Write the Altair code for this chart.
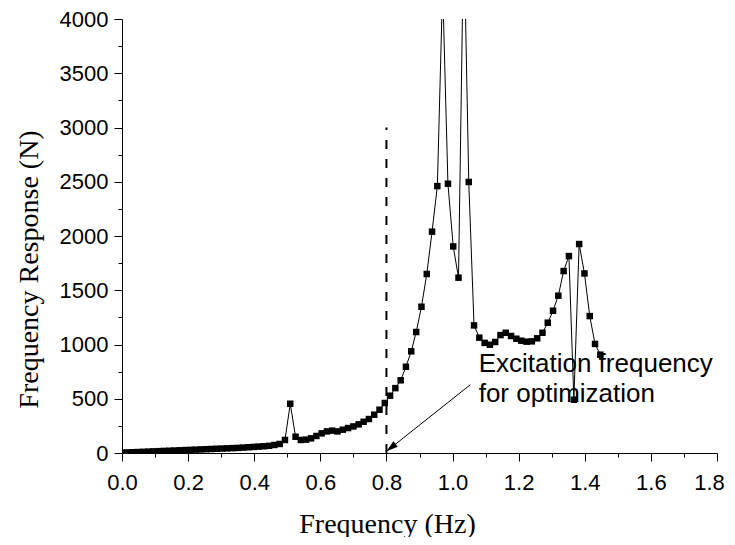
import altair as alt
import pandas as pd

# Frequency samples (Hz)
freq = [0.000, 0.016, 0.032, 0.048, 0.064, 0.080, 0.095, 0.111, 0.127, 0.143,
        0.159, 0.175, 0.191, 0.207, 0.223, 0.239, 0.254, 0.270, 0.286, 0.302,
        0.318, 0.334, 0.350, 0.366, 0.382, 0.398, 0.413, 0.429, 0.445, 0.461,
        0.477, 0.493, 0.509, 0.525, 0.541, 0.557, 0.572, 0.588, 0.604, 0.620,
        0.636, 0.652, 0.668, 0.684, 0.700, 0.716, 0.731, 0.747, 0.763, 0.779,
        0.795, 0.811, 0.827, 0.843, 0.859, 0.875, 0.890, 0.906, 0.922, 0.938,
        0.954, 0.970, 0.986, 1.002, 1.018, 1.034, 1.049, 1.065, 1.081, 1.097,
        1.113, 1.129, 1.145, 1.161, 1.177, 1.193, 1.208, 1.224, 1.240, 1.256,
        1.272, 1.288, 1.304, 1.320, 1.336, 1.352, 1.367, 1.383, 1.399, 1.415,
        1.431, 1.447]

# Frequency response (N)
response = [3, 5, 7, 9, 11, 13, 15, 17, 19, 21,
            23, 25, 27, 29, 31, 33, 35, 37, 39, 41,
            43, 45, 47, 50, 53, 56, 59, 62, 66, 74,
            83, 120, 454, 150, 120, 123, 135, 157, 181, 199,
            206, 199, 215, 230, 245, 264, 288, 313, 353, 399,
            461, 528, 598, 670, 795, 937, 1115, 1348, 1650, 2040,
            2460, 4300, 2482, 1904, 1616, 4850, 2498, 1176, 1063, 1015,
            998, 1023, 1087, 1108, 1078, 1053, 1035, 1026, 1029, 1057,
            1108, 1201, 1311, 1450, 1677, 1815, 491, 1926, 1655, 1262,
            1005, 906]

x_major = [0.0, 0.2, 0.4, 0.6, 0.8, 1.0, 1.2, 1.4, 1.6, 1.8]
x_minor = [0.1, 0.3, 0.5, 0.7, 0.9, 1.1, 1.3, 1.5, 1.7]
y_major = [0, 500, 1000, 1500, 2000, 2500, 3000, 3500, 4000]
y_minor = [250, 750, 1250, 1750, 2250, 2750, 3250, 3750]

# Annotation content
excite_x = [0.8]
excite_y0 = [0]
excite_y1 = [3000]
arrow_from = [1.054, 630]
arrow_to = [0.8, 15]
note_lines = ["Excitation frequency", "for optimization"]
note_x = [1.079, 1.079]
note_y = [743, 470]

df = pd.DataFrame({"f": freq, "r": response})
rule_df = pd.DataFrame({"f": excite_x, "r": excite_y0, "r2": excite_y1})
arrow_df = pd.DataFrame({"f": [arrow_from[0]], "r": [arrow_from[1]],
                         "f2": [arrow_to[0]], "r2": [arrow_to[1]]})
head_df = pd.DataFrame({"f": [arrow_to[0]], "r": [arrow_to[1]]})
note_df = pd.DataFrame({"f": note_x, "r": note_y, "t": note_lines})

x_scale = alt.Scale(domain=[0, 1.8], nice=False, zero=False)
y_scale = alt.Scale(domain=[0, 4000], nice=False)

x_axis = alt.Axis(
    orient="bottom",
    values=x_major,
    format=".1f",
    labelOffset={"condition": {"test": "datum.value > 1.75", "value": -8}, "value": 0},
    ticks=True, tickSize=8,
    labelFlush=False, labelOverlap=False,
    title="Frequency (Hz)",
    titleX=265, titleY=79, titleBaseline="alphabetic",
    labelPadding=11,
)
y_axis = alt.Axis(
    orient="left",
    values=y_major,
    format="d",
    ticks=True, tickSize=8,
    labelFlush=False, labelOverlap=False,
    title="Frequency Response (N)",
    titleX=-85, titleY=250, titleBaseline="alphabetic", titleAngle=-90,
    labelPadding=6,
)
x_minor_axis = alt.Axis(orient="bottom", values=x_minor, ticks=True, tickSize=4,
                        labels=False, domain=False, title=None)
y_minor_axis = alt.Axis(orient="left", values=y_minor, ticks=True, tickSize=4,
                        labels=False, domain=False, title=None)

base = alt.Chart(df)
line = base.mark_line(color="black", strokeWidth=1, clip=True).encode(
    x=alt.X("f:Q", scale=x_scale, axis=x_axis),
    y=alt.Y("r:Q", scale=y_scale, axis=y_axis),
)
points = base.mark_square(color="black", size=42, opacity=1, clip=True).encode(
    x=alt.X("f:Q", axis=None), y=alt.Y("r:Q", axis=None)
)
rule = alt.Chart(rule_df).mark_rule(color="black", strokeWidth=2, strokeDash=[9, 10]).encode(
    x=alt.X("f:Q", axis=x_minor_axis), y=alt.Y("r:Q", axis=y_minor_axis), y2="r2:Q"
)
arrow = alt.Chart(arrow_df).mark_rule(color="black", strokeWidth=1).encode(
    x=alt.X("f:Q", axis=None), y=alt.Y("r:Q", axis=None), x2="f2:Q", y2="r2:Q"
)
head = alt.Chart(head_df).mark_point(
    shape="M0,0L-0.3,1L0.3,1Z", size=550, filled=True, color="black",
    opacity=1, angle=231.4
).encode(x=alt.X("f:Q", axis=None), y=alt.Y("r:Q", axis=None))
notes = alt.Chart(note_df).mark_text(
    font="Liberation Sans", fontSize=26, align="left", baseline="alphabetic", color="black"
).encode(x=alt.X("f:Q", axis=None), y=alt.Y("r:Q", axis=None), text="t:N")

chart = alt.layer(line, points, rule, arrow, head, notes).resolve_scale(
    x="shared", y="shared"
).resolve_axis(
    x="independent", y="independent"
).properties(
    width=595, height=434,
    autosize=alt.AutoSizeParams(type="none"),
    padding={"left": 114, "top": 11, "right": 10, "bottom": 84},
).configure_view(stroke=None).configure_axis(
    grid=False,
    domainColor="black", domainWidth=1,
    tickColor="black", tickWidth=1,
    labelFont="Liberation Sans", labelFontSize=22, labelColor="black",
    titleFont="Liberation Serif", titleFontSize=28, titleFontWeight="normal", titleColor="black",
)

chart.save("out.html", embed_options={"renderer": "svg", "actions": False})
